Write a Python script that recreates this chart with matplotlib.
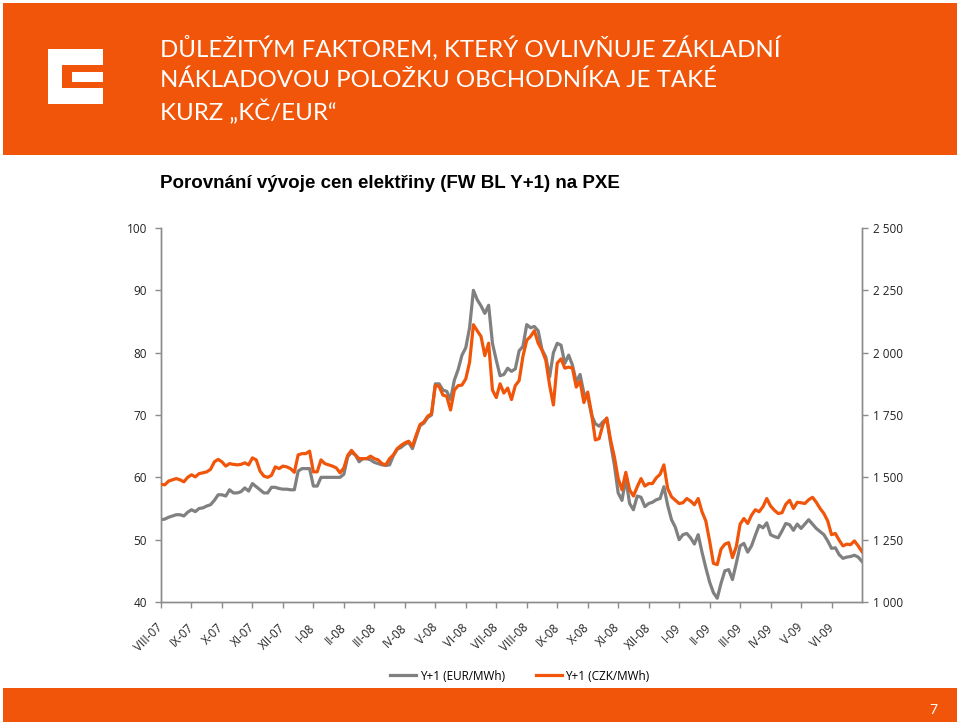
import numpy as np
import matplotlib
matplotlib.use("Agg")
import matplotlib.pyplot as plt
from matplotlib.patches import Rectangle

# ---------------- data ----------------
months = ["VIII-07", "IX-07", "X-07", "XI-07", "XII-07", "I-08", "II-08", "III-08",
          "IV-08", "V-08", "VI-08", "VII-08", "VIII-08", "IX-08", "X-08", "XI-08",
          "XII-08", "I-09", "II-09", "III-09", "IV-09", "V-09", "VI-09"]

samples_per_month = 8

y1_eur = [
    53.2, 53.3, 53.6, 53.8, 54.0, 54.0, 53.8, 54.4,
    54.8, 54.5, 55.0, 55.1, 55.4, 55.6, 56.3, 57.2,
    57.2, 57.0, 58.0, 57.5, 57.5, 57.7, 58.3, 57.8,
    59.0, 58.5, 58.0, 57.5, 57.5, 58.4, 58.4, 58.2,
    58.1, 58.1, 58.0, 58.0, 61.0, 61.4, 61.4, 61.4,
    58.6, 58.6, 60.0, 60.0, 60.0, 60.0, 60.0, 60.0,
    60.5, 63.3, 64.0, 63.6, 62.5, 63.0, 63.0, 62.8,
    62.4, 62.2, 62.0, 61.9, 62.0, 63.5, 64.5, 64.8,
    65.3, 65.6, 64.6, 66.5, 68.3, 68.7, 69.6, 70.0,
    75.0, 75.0, 74.0, 73.8, 72.5, 75.6, 77.3, 79.6,
    80.8, 84.0, 90.0, 88.5, 87.5, 86.3, 87.6, 81.5,
    78.8, 76.3, 76.5, 77.5, 77.0, 77.4, 80.3, 81.0,
    84.5, 84.0, 84.2, 83.5, 80.5, 79.3, 76.1, 80.0,
    81.5, 81.2, 78.3, 79.6, 78.0, 75.3, 76.5, 73.5,
    73.0, 70.0, 68.6, 68.2, 68.9, 69.4, 65.5, 62.0,
    57.5, 56.3, 59.8, 55.8, 54.8, 57.0, 56.8, 55.3,
    55.8, 56.0, 56.4, 56.6, 58.5, 55.5, 53.2, 52.0,
    50.0, 50.8, 51.0, 50.3, 49.3, 50.8, 48.0, 45.5,
    43.2, 41.5, 40.6, 43.0, 45.0, 45.2, 43.6, 46.2,
    49.0, 49.4, 48.0, 49.0, 50.7, 52.3, 51.9, 52.7,
    50.8, 50.5, 50.3, 51.4, 52.6, 52.4, 51.5, 52.5,
    51.8, 52.5, 53.2, 52.5, 51.8, 51.3, 50.8, 49.8,
    48.6, 48.7, 47.6, 47.0, 47.2, 47.3, 47.5, 47.2, 46.5,
]

y1_czk = [
    1472, 1470, 1485, 1490, 1495, 1490, 1482, 1500,
    1510, 1502, 1515, 1518, 1522, 1532, 1562, 1572,
    1562, 1545, 1555, 1552, 1550, 1552, 1558, 1550,
    1578, 1570, 1525, 1505, 1500, 1508, 1542, 1535,
    1545, 1542, 1535, 1520, 1590, 1595, 1595, 1605,
    1522, 1522, 1570, 1555, 1550, 1545, 1538, 1518,
    1538, 1588, 1608, 1590, 1575, 1575, 1575, 1585,
    1575, 1570, 1555, 1550, 1575, 1590, 1615, 1628,
    1638, 1645, 1625, 1670, 1712, 1722, 1745, 1755,
    1868, 1865, 1830, 1825, 1770, 1850, 1868, 1870,
    1895, 1962, 2112, 2088, 2065, 1988, 2038, 1850,
    1820, 1875, 1838, 1858, 1812, 1868, 1888, 1985,
    2050, 2065, 2088, 2038, 2010, 1970, 1870, 1790,
    1958, 1975, 1938, 1942, 1938, 1862, 1885, 1800,
    1842, 1758, 1650, 1655, 1712, 1738, 1650, 1582,
    1495, 1450, 1520, 1450, 1425, 1462, 1495, 1465,
    1475, 1475, 1498, 1512, 1550, 1455, 1422, 1408,
    1395, 1398, 1415, 1405, 1390, 1415, 1362, 1325,
    1245, 1155, 1150, 1212, 1232, 1238, 1178, 1222,
    1312, 1335, 1315, 1348, 1370, 1362, 1382, 1415,
    1385, 1368, 1355, 1358, 1392, 1408, 1375, 1400,
    1398, 1395, 1410, 1420, 1400, 1375, 1355, 1325,
    1270, 1275, 1248, 1225, 1232, 1230, 1245, 1225, 1202,
]

left_ticks = [40, 50, 60, 70, 80, 90, 100]
right_ticks = [1000, 1250, 1500, 1750, 2000, 2250, 2500]
right_labels = ["1 000", "1 250", "1 500", "1 750", "2 000", "2 250", "2 500"]

title_lines = ["DŮLEŽITÝM FAKTOREM, KTERÝ OVLIVŇUJE ZÁKLADNÍ",
               "NÁKLADOVOU POLOŽKU OBCHODNÍKA JE TAKÉ",
               "KURZ „KČ/EUR“"]
subtitle = "Porovnání vývoje cen elektřiny (FW BL Y+1) na PXE"
series_names = ["Y+1 (EUR/MWh)", "Y+1 (CZK/MWh)"]

# ---------------- style ----------------
W, H = 960, 725
ORANGE = "#F0550A"
GRAY = "#808080"
AXIS = "#8C8C8C"

def fx(px):
    return px / W

def fy(py):
    return 1 - py / H

fig = plt.figure(figsize=(W / 100, H / 100), dpi=100)
fig.patch.set_facecolor("white")

# header band
fig.patches.append(Rectangle((fx(3), fy(155)), fx(954), 152 / H, transform=fig.transFigure,
                             facecolor=ORANGE, edgecolor="none", zorder=0))
# footer band
fig.patches.append(Rectangle((fx(3), fy(722)), fx(954), 34 / H, transform=fig.transFigure,
                             facecolor=ORANGE, edgecolor="none", zorder=0))
# logo
for (x0, y0, x1, y1) in [(48, 49, 103, 65), (48, 49, 62, 104), (48, 88, 103, 104), (72, 72, 103, 82)]:
    fig.patches.append(Rectangle((fx(x0), fy(y1)), fx(x1 - x0), (y1 - y0) / H,
                                 transform=fig.transFigure, facecolor="white",
                                 edgecolor="none", zorder=1))

for i, line in enumerate(title_lines):
    fig.text(fx(160), fy(48 + i * 32), line, color="white", fontsize=17.3,
             family="Lato", weight="normal", va="center", ha="left")

fig.text(fx(160), fy(183), subtitle, color="black", fontsize=13.5,
         family="Liberation Sans", weight="bold", va="center", ha="left")

fig.text(fx(933), fy(710), "7", color="white", fontsize=10, family="Lato",
         va="center", ha="center")

# ---------------- chart ----------------
ax = fig.add_axes([fx(161), fy(602), fx(701), 374 / H])
ax2 = ax.twinx()

x = np.arange(len(y1_eur)) / samples_per_month

l1, = ax.plot(x, y1_eur, color=GRAY, lw=2.3, solid_joinstyle="round", zorder=2)
l2, = ax2.plot(x, y1_czk, color=ORANGE, lw=2.3, solid_joinstyle="round", zorder=3)

ax.set_xlim(0, 23)
ax.set_ylim(40, 100)
ax2.set_ylim(1000, 2500)

ax.set_yticks(left_ticks)
ax.set_yticklabels([str(t) for t in left_ticks])
ax2.set_yticks(right_ticks)
ax2.set_yticklabels(right_labels)

ax.set_xticks(np.arange(len(months)))
ax.set_xticklabels(months, rotation=45, ha="right", va="center",
                   rotation_mode="anchor")

for a in (ax, ax2):
    a.set_facecolor("none")
    a.spines["top"].set_visible(False)
    for s in ("left", "right", "bottom"):
        a.spines[s].set_color(AXIS)
        a.spines[s].set_linewidth(1.0)
    a.tick_params(colors=AXIS, labelcolor="#222222", labelsize=8.5, length=4, width=1)
    for lab in a.get_xticklabels() + a.get_yticklabels():
        lab.set_family("Open Sans")

ax.tick_params(axis="x", pad=13)
ax.tick_params(axis="y", pad=6)
ax2.tick_params(axis="y", pad=4)
ax.patch.set_visible(False)

fig.legend([l1, l2], series_names, loc="center", bbox_to_anchor=(fx(520), fy(676)),
           ncol=2, frameon=False, handlelength=2.2, columnspacing=2.6,
           handletextpad=0.3, prop={"family": "Open Sans", "size": 8.5})

fig.savefig("out.png", dpi=100)
